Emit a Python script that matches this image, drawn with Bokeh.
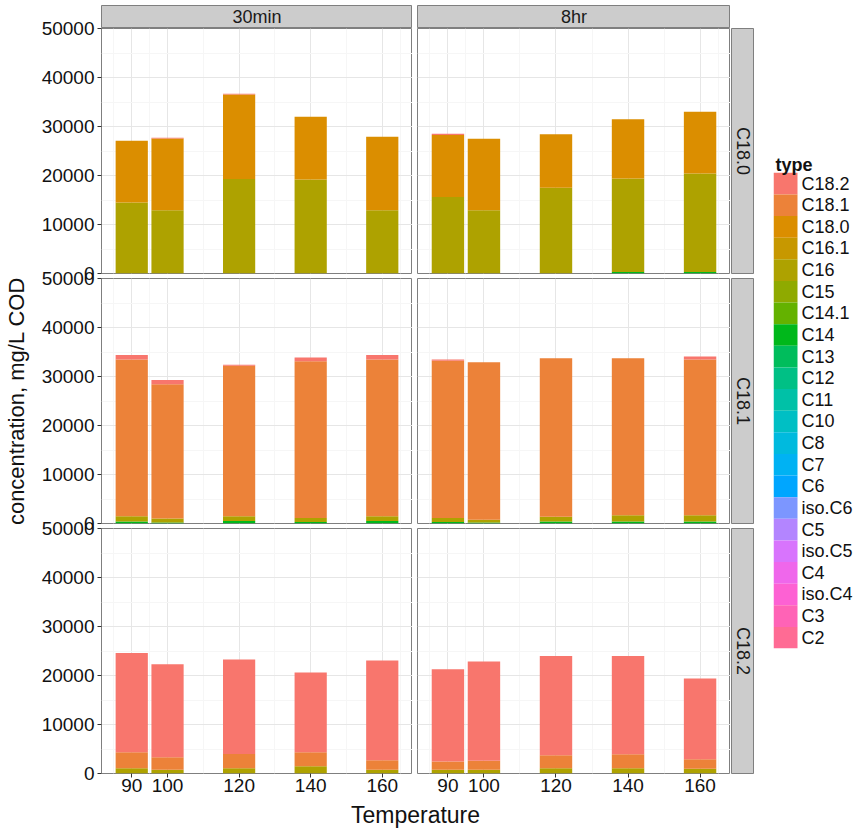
import math
from bokeh.plotting import figure
from bokeh.layouts import row, column
from bokeh.models import Range1d, FixedTicker, NumeralTickFormatter, ColumnDataSource, Spacer
from bokeh.embed import file_html
from bokeh.resources import INLINE
from bokeh.core.properties import value

# ---------------- data ----------------
temps = [90, 100, 120, 140, 160]
times = ["30min", "8hr"]
feeds = ["C18.0", "C18.1", "C18.2"]
types = ["C18.2", "C18.1", "C18.0", "C16.1", "C16", "C15", "C14.1", "C14", "C13",
         "C12", "C11", "C10", "C8", "C7", "C6", "iso.C6", "C5", "iso.C5", "C4",
         "iso.C4", "C3", "C2"]

y_ticks = [0, 10000, 20000, 30000, 40000, 50000]
y_minor = [5000, 15000, 25000, 35000, 45000]
x_minor = [85, 95, 110, 130, 150, 165]

conc_30min_C180 = {
    "C16":   [14500, 12900, 19300, 19200, 12900],
    "C18.0": [12600, 14650, 17250, 12800, 15000],
    "C18.2": [0, 150, 150, 0, 0],
}
conc_8hr_C180 = {
    "C14":   [0, 0, 0, 300, 300],
    "C16":   [15600, 12900, 17500, 19100, 20100],
    "C18.0": [12650, 14600, 10900, 12100, 12600],
    "C18.2": [250, 0, 0, 0, 0],
}
conc_30min_C181 = {
    "C14":   [400, 200, 500, 300, 500],
    "C16":   [1100, 800, 1000, 800, 1000],
    "C18.1": [31950, 27400, 30700, 32000, 31950],
    "C18.2": [950, 900, 200, 800, 950],
}
conc_8hr_C181 = {
    "C14":   [300, 200, 400, 400, 400],
    "C16":   [800, 550, 1000, 1300, 1300],
    "C18.1": [32100, 32150, 32300, 32000, 31750],
    "C18.2": [250, 0, 0, 0, 650],
}
conc_30min_C182 = {
    "C16":   [1080, 750, 1080, 1500, 750],
    "C18.1": [3270, 2550, 2920, 2850, 1950],
    "C18.2": [20250, 19000, 19250, 16250, 20350],
}
conc_8hr_C182 = {
    "C16":   [750, 750, 1080, 1080, 950],
    "C18.1": [1700, 1850, 2620, 2870, 1950],
    "C18.2": [18850, 20250, 20300, 20050, 16500],
}

facet_data = {
    ("30min", "C18.0"): conc_30min_C180, ("8hr", "C18.0"): conc_8hr_C180,
    ("30min", "C18.1"): conc_30min_C181, ("8hr", "C18.1"): conc_8hr_C181,
    ("30min", "C18.2"): conc_30min_C182, ("8hr", "C18.2"): conc_8hr_C182,
}

# ---------------- style ----------------
FONT = "Liberation Sans"
TXT = "#1A1A1A"
BORDER = "#7F7F7F"
STRIP_FILL = "#CCCCCC"
GRID_MAJ = "#E6E6E6"
GRID_MIN = "#F6F6F6"
PANEL_H = 245
BOTTOM_B = 27
BAR_W = 9


def hcl_hex(h, c=100.0, l=65.0):
    Xn, Yn, Zn = 95.047, 100.0, 108.883
    hr = math.radians(h)
    U, V = c * math.cos(hr), c * math.sin(hr)
    Y = Yn * (((l + 16) / 116) ** 3 if l > 7.999592 else l / 903.3)
    den = Xn + 15 * Yn + 3 * Zn
    un, vn = 4 * Xn / den, 9 * Yn / den
    u, v = U / (13 * l) + un, V / (13 * l) + vn
    X = 9.0 * Y * u / (4 * v)
    Z = -X / 3 - 5 * Y + 3 * Y / v

    def g(t):
        return 1.055 * t ** (1 / 2.4) - 0.055 if t > 0.0031308 else 12.92 * t

    r = g((3.240479 * X - 1.537150 * Y - 0.498535 * Z) / Yn)
    gg = g((-0.969256 * X + 1.875992 * Y + 0.041556 * Z) / Yn)
    b = g((0.055648 * X - 0.204043 * Y + 1.057311 * Z) / Yn)
    comp = [max(0, min(255, int(round(255 * k)))) for k in (r, gg, b)]
    return "#%02X%02X%02X" % tuple(comp)


hues = [15 + 360.0 * i / len(types) for i in range(len(types))]
palette = {t: hcl_hex(h) for t, h in zip(types, hues)}

span = (max(temps) + BAR_W / 2) - (min(temps) - BAR_W / 2)
x_lo = min(temps) - BAR_W / 2 - 0.05 * span
x_hi = max(temps) + BAR_W / 2 + 0.05 * span


def style_axis(ax, standoff):
    ax.axis_line_color = None
    ax.major_tick_line_color = "#333333"
    ax.major_tick_out = 4
    ax.major_tick_in = 0
    ax.minor_tick_line_color = None
    ax.major_label_text_font = FONT
    ax.major_label_text_font_size = "19px"
    ax.major_label_text_color = "#111111"
    ax.major_label_standoff = standoff


def make_panel(time, feed, left_col, first_row, last_row):
    data = facet_data[(time, feed)]
    width = 412 if left_col else 318
    bl = 100 if left_col else 5
    bt = 10 if left_col else 0
    bb = BOTTOM_B if last_row else (10 if left_col else 5)
    p = figure(width=width, height=bt + PANEL_H + bb, output_backend="svg",
               toolbar_location=None,
               x_range=Range1d(x_lo, x_hi), y_range=Range1d(0, 50000),
               x_axis_location="below" if last_row else None,
               y_axis_location="left" if left_col else None,
               min_border=0, min_border_left=bl, min_border_right=0,
               min_border_top=bt, min_border_bottom=bb,
               background_fill_color="white", border_fill_color=None,
               outline_line_color=BORDER, outline_line_width=1)
    if left_col:
        p.margin = (-10 if first_row else -15, 0, 0, 0)
    xt = FixedTicker(ticks=temps, minor_ticks=x_minor)
    yt = FixedTicker(ticks=y_ticks, minor_ticks=y_minor)
    p.xgrid.ticker = xt
    p.ygrid.ticker = yt
    p.grid.grid_line_color = GRID_MAJ
    p.grid.minor_grid_line_color = GRID_MIN
    if last_row:
        p.xaxis.ticker = xt
        style_axis(p.xaxis[0], 1)
    if left_col:
        p.yaxis.ticker = yt
        p.yaxis.formatter = NumeralTickFormatter(format="0")
        style_axis(p.yaxis[0], 3)
        if feed == feeds[1]:
            p.yaxis.axis_label = "concentration, mg/L COD"
            p.yaxis.axis_label_text_font = FONT
            p.yaxis.axis_label_text_font_size = "22px"
            p.yaxis.axis_label_text_font_style = "normal"
            p.yaxis.axis_label_text_color = "#111111"
            p.yaxis.axis_label_standoff = 10
    present = [t for t in reversed(types) if t in data]
    src = ColumnDataSource(dict(temp=temps, **{t: data[t] for t in present}))
    p.vbar_stack(present, x="temp", width=BAR_W, source=src,
                 fill_color=[palette[t] for t in present], line_color=None)
    return p


def top_strip(label, left_col):
    width = 412 if left_col else 318
    p = figure(width=width, height=28, output_backend="svg", toolbar_location=None,
               x_range=Range1d(0, 1), y_range=Range1d(0, 1),
               x_axis_location=None, y_axis_location=None,
               min_border=0, min_border_left=100 if left_col else 5,
               min_border_right=0, min_border_top=5, min_border_bottom=0,
               background_fill_color=STRIP_FILL, border_fill_color=None,
               outline_line_color=BORDER)
    p.grid.visible = False
    p.text(x=[0.5], y=[0.5], text=[label], text_align="center", text_baseline="middle",
           text_font=value(FONT), text_font_size="18px", text_color=TXT)
    return p


def side_strip(label, last_row):
    bb = BOTTOM_B if last_row else 5
    p = figure(width=24, height=PANEL_H + bb, output_backend="svg", toolbar_location=None,
               x_range=Range1d(0, 1), y_range=Range1d(0, 1),
               x_axis_location=None, y_axis_location=None,
               min_border=0, min_border_left=1, min_border_right=0,
               min_border_top=0, min_border_bottom=bb,
               background_fill_color=STRIP_FILL, border_fill_color=None,
               outline_line_color=BORDER)
    p.grid.visible = False
    p.text(x=[0.5], y=[0.5], text=[label], angle=-math.pi / 2,
           text_align="center", text_baseline="middle",
           text_font=value(FONT), text_font_size="18px", text_color=TXT)
    return p


left_children = [top_strip(times[0], True)]
right_children = [top_strip(times[1], False)]
strip_children = [Spacer(width=24, height=28)]
for i, feed in enumerate(feeds):
    first, last = i == 0, i == len(feeds) - 1
    left_children.append(make_panel(times[0], feed, True, first, last))
    right_children.append(make_panel(times[1], feed, False, first, last))
    strip_children.append(side_strip(feed, last))

TOP_H = 28 + 3 * PANEL_H + 2 * 5 + BOTTOM_B  # height of the panel block (800)

# legend (keys ~21.6 px tall, frame extended upward to hold the title)
n = len(types)
KEY_H = 476 / n
extra = 1.4
frame_h = (n + extra) * KEY_H
leg = figure(width=108, height=TOP_H, output_backend="svg", toolbar_location=None,
             x_range=Range1d(0, 89), y_range=Range1d(0, n + extra),
             x_axis_location=None, y_axis_location=None,
             min_border=0, min_border_left=19, min_border_right=0,
             min_border_top=int(round(648 - frame_h)), min_border_bottom=TOP_H - 648,
             background_fill_color=None, border_fill_color=None, outline_line_color=None)
leg.grid.visible = False
key_bottom = [n - 1 - i for i in range(n)]
leg.quad(left=0, right=24, bottom=key_bottom, top=[b + 1 for b in key_bottom],
         fill_color=[palette[t] for t in types], line_color=None)
leg.text(x=[28] * n, y=[b + 0.5 for b in key_bottom], text=types,
         text_baseline="middle", text_align="left",
         text_font=value(FONT), text_font_size="18px", text_color="#111111")
leg.text(x=[2], y=[n + 8 / KEY_H], text=["type"], text_baseline="alphabetic",
         text_align="left", text_font=value(FONT), text_font_size="18px",
         text_font_style="bold", text_color="#111111")

# x axis title, in its own strip below the panels
XL_H = 828 - TOP_H
xl = figure(width=730, height=XL_H, output_backend="svg", toolbar_location=None,
            x_range=Range1d(0, 1), y_range=Range1d(0, XL_H),
            x_axis_location=None, y_axis_location=None,
            min_border=0, min_border_left=100, min_border_right=0,
            background_fill_color=None, border_fill_color=None, outline_line_color=None)
xl.grid.visible = False
xl.text(x=[0.5], y=[XL_H / 2], text=["Temperature"], text_font=value(FONT),
        text_font_size="23px", text_color="#111111",
        text_align="center", text_baseline="middle")

layout = column(
    row(column(*left_children), column(*right_children), column(*strip_children), leg),
    xl,
)

open("out.html", "w").write(file_html(layout, INLINE))
